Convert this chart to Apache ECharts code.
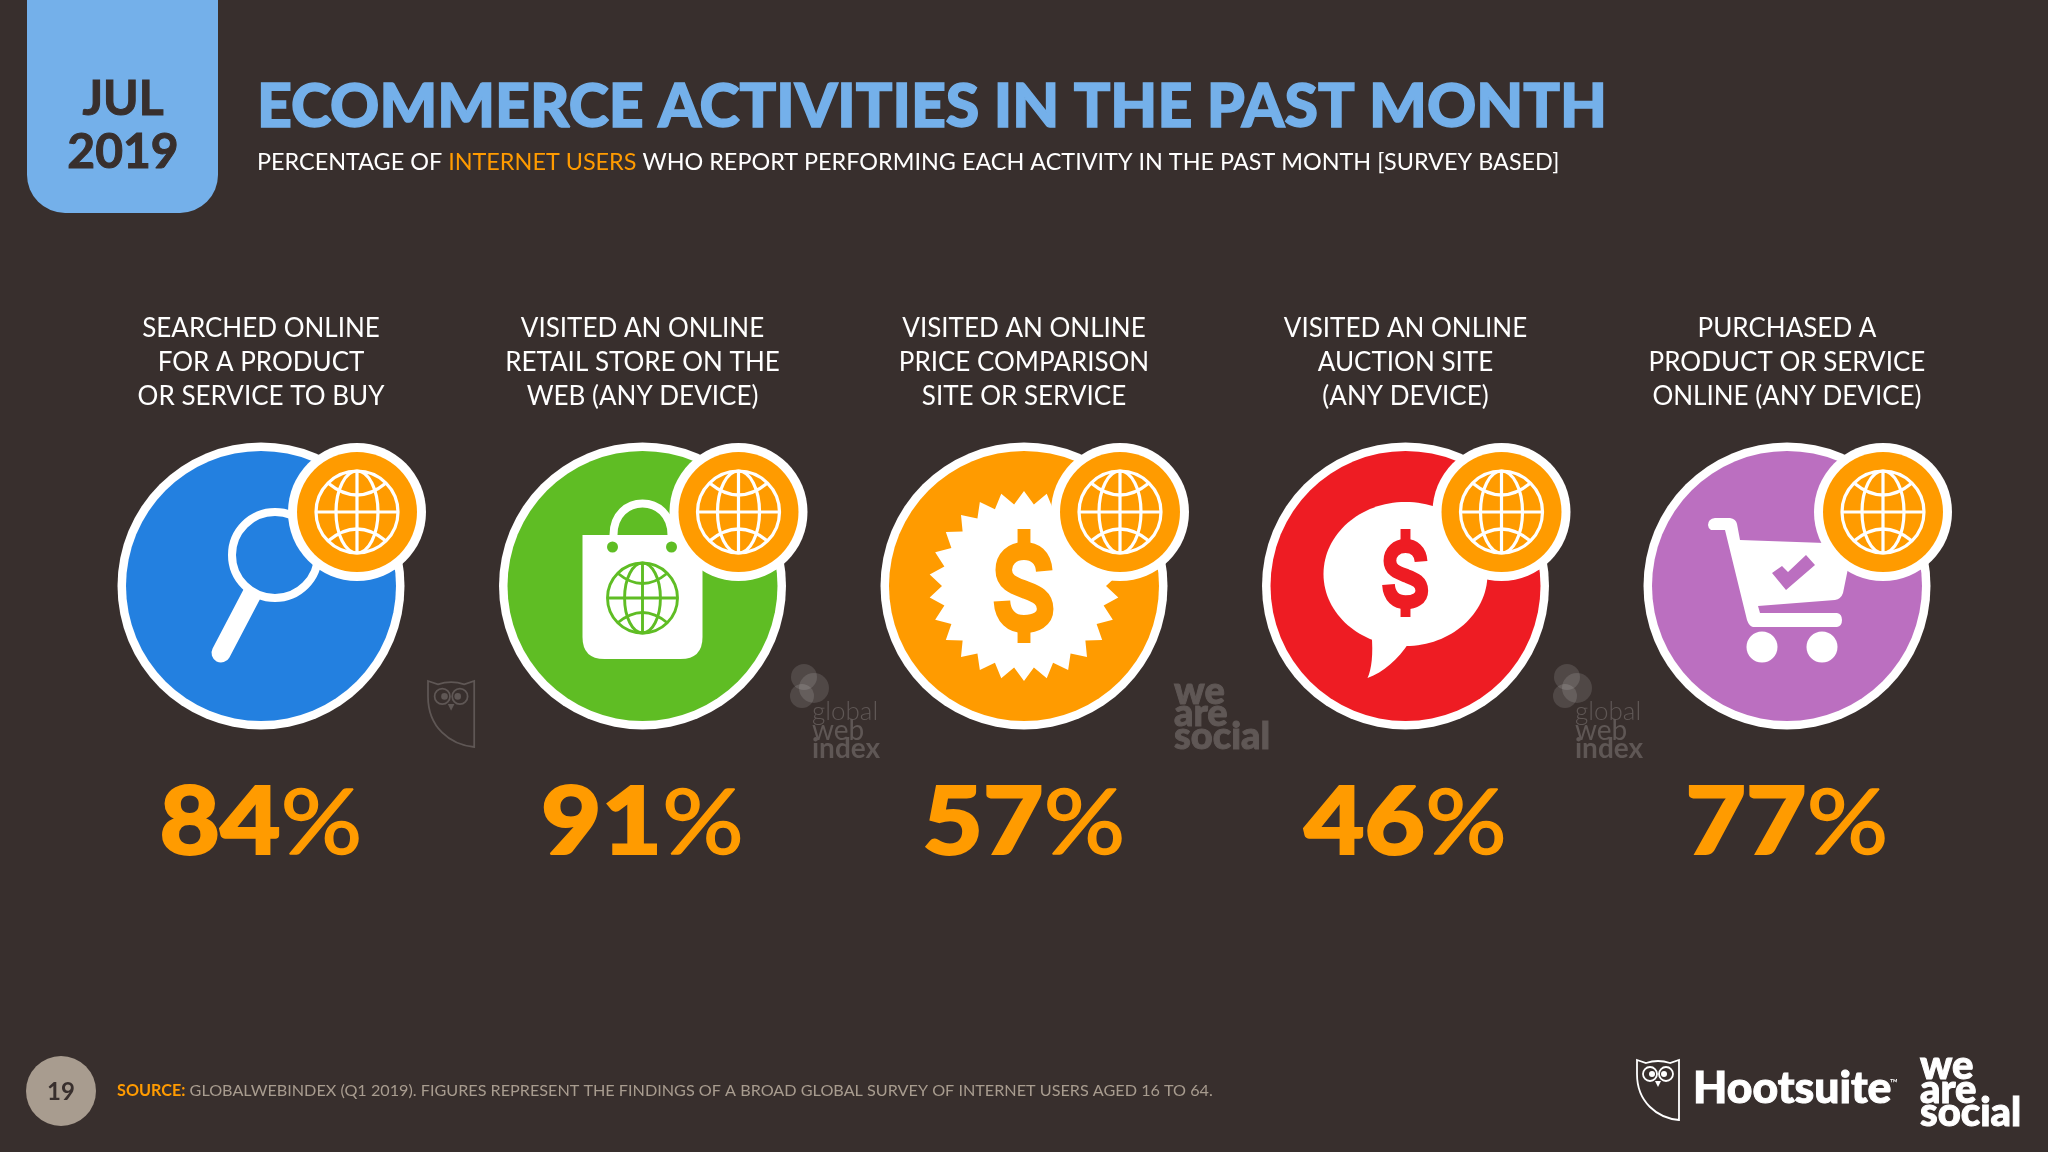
<!DOCTYPE html>
<html lang="en">
<head>
  <meta charset="UTF-8">
  <title>Ecommerce activities in the past month</title>
  <script src="https://cdn.jsdelivr.net/npm/echarts@6/dist/echarts.min.js"></script>
  <style>
    html, body { margin: 0; padding: 0; background: #382f2d; }
    #main { width: 2048px; height: 1152px; }
  </style>
</head>
<body>
  <div id="main"></div>
  <script>
    var categories = [
      'SEARCHED ONLINE\nFOR A PRODUCT\nOR SERVICE TO BUY',
      'VISITED AN ONLINE\nRETAIL STORE ON THE\nWEB (ANY DEVICE)',
      'VISITED AN ONLINE\nPRICE COMPARISON\nSITE OR SERVICE',
      'VISITED AN ONLINE\nAUCTION SITE\n(ANY DEVICE)',
      'PURCHASED A\nPRODUCT OR SERVICE\nONLINE (ANY DEVICE)'
    ];
    var percentValues = [84, 91, 57, 46, 77];
    var iconNames = ['search', 'bag', 'burst', 'speech', 'cart'];
    var circleColors = ['#2380e0', '#5fbd24', '#ff9b00', '#ee1c23', '#bb6fc0'];

    var FONT = 'Lato, "Noto Sans", sans-serif';
    var BG = '#382f2d';
    var WHITE = '#ffffff';
    var ORANGE = '#ff9b00';
    var BLUE = '#74b0ea';
    var FAINT = '#5f5755';

    // ---- icon helpers, all drawn around 0,0 ----
    function circle(cx, cy, r, fill) {
      return { type: 'circle', shape: { cx: cx, cy: cy, r: r }, style: { fill: fill } };
    }
    function path(d, fill, stroke, lw) {
      return {
        type: 'path',
        shape: { pathData: d },
        style: { fill: fill || 'none', stroke: stroke || 'none', lineWidth: lw || 0 }
      };
    }
    // heavy thickens the glyphs a little, the source logos are blacker than Lato
    function label(text, x, y, size, weight, color, align, heavy) {
      return {
        type: 'text',
        x: x,
        y: y,
        style: {
          text: text,
          fill: color,
          stroke: heavy ? color : null,
          lineWidth: heavy || 0,
          fontFamily: FONT,
          fontSize: size,
          fontWeight: weight,
          align: align || 'left',
          verticalAlign: 'middle'
        }
      };
    }

    function globe(cx, cy, r, color, lw) {
      var k = r / 41;
      return {
        type: 'group',
        x: cx,
        y: cy,
        scaleX: k,
        scaleY: k,
        children: [
          { type: 'circle', shape: { cx: 0, cy: 0, r: 41 }, style: { fill: 'none', stroke: color, lineWidth: lw } },
          { type: 'ellipse', shape: { cx: 0, cy: 0, rx: 21, ry: 41 }, style: { fill: 'none', stroke: color, lineWidth: lw } },
          path('M0,-41 L0,41 M-41,0 L41,0', 'none', color, lw),
          path('M-29,-29 Q0,-5 29,-29 M-29,29 Q0,5 29,29', 'none', color, lw)
        ]
      };
    }

    function dollar(cx, cy, k, color) {
      return {
        type: 'group',
        x: cx,
        y: cy,
        scaleX: k * 0.92,
        scaleY: k,
        children: [
          path('M22,-15 C21,-29 12,-35 0,-35 C-13,-35 -22,-27 -22,-16 C-22,-3 -9,0 2,4 C14,8 23,12 23,23 C23,33 13,38 0,38 C-13,38 -23,31 -24,15',
            'none', color, 18),
          path('M-7,-57 L7,-57 L7,-36 L-7,-36 Z M-7,36 L7,36 L7,57 L-7,57 Z', color)
        ]
      };
    }

    function burstPoints() {
      var pts = [];
      var n = 26;
      for (var i = 0; i < n * 2; i++) {
        var r = i % 2 ? 82 : 95;
        var a = -Math.PI / 2 + i * Math.PI / n;
        pts.push([r * Math.cos(a), r * Math.sin(a)]);
      }
      return pts;
    }

    function iconShapes(name, color) {
      if (name === 'search') {
        return [
          { type: 'line', shape: { x1: -7, y1: 4, x2: -40, y2: 67 }, style: { stroke: WHITE, lineWidth: 19, lineCap: 'round' } },
          { type: 'circle', shape: { cx: 14, cy: -31, r: 43 }, style: { fill: color, stroke: WHITE, lineWidth: 8 } }
        ];
      }
      if (name === 'bag') {
        return [
          path('M-29,-51 C-29,-93 29,-93 29,-51', 'none', WHITE, 8),
          path('M-60,-51 L60,-51 L60,51 Q60,73 38,73 L-38,73 Q-60,73 -60,51 Z', WHITE),
          circle(-30, -39, 5.5, color),
          circle(29, -39, 5.5, color),
          globe(0, 12, 35, color, 3.4)
        ];
      }
      if (name === 'burst') {
        return [
          { type: 'polygon', shape: { points: burstPoints() }, style: { fill: WHITE } },
          dollar(0, 0, 1, color)
        ];
      }
      if (name === 'speech') {
        return [
          { type: 'ellipse', shape: { cx: 0, cy: -12, rx: 82, ry: 72 }, style: { fill: WHITE } },
          path('M-34,48 C-32,68 -34,84 -38,92 C-22,86 -8,74 4,56 Z', WHITE),
          dollar(0, -13, 0.77, color)
        ];
      }
      return [
        path('M-47,-46 L66,-42 L56,7 Q54,13 48,14 L-29,20 L-27,27 L50,27 Q55,28 55,34 Q55,40 50,41 L-34,41 Q-38,40 -40,34 L-62,-56 L-76,-56 Q-79,-58 -79,-61 Q-79,-67 -72,-68 L-57,-68 Q-51,-67 -50,-62 Z', WHITE),
        circle(-25, 61, 15.5, WHITE),
        circle(35, 61, 15.5, WHITE),
        { type: 'polygon', shape: { points: [[-15, -13], [-1, 4], [28, -21], [19, -31], [1, -14], [-5, -20]] }, style: { fill: color } }
      ];
    }

    function owl(x, y, k, color, lw) {
      return {
        type: 'group',
        x: x,
        y: y,
        scaleX: k,
        scaleY: k,
        children: [
          path('M0,0 L9,3 Q21,-1 33,3 L42,0 L42,60 C20,58 0,42 0,14 Z', 'none', color, lw),
          { type: 'circle', shape: { cx: 13, cy: 14, r: 7 }, style: { fill: 'none', stroke: color, lineWidth: lw } },
          { type: 'circle', shape: { cx: 29, cy: 14, r: 7 }, style: { fill: 'none', stroke: color, lineWidth: lw } },
          circle(15, 14, 3, color),
          circle(27, 14, 3, color),
          path('M18,21 L24,21 L21,27 Z', color)
        ]
      };
    }

    function gwiMark(x) {
      var tint = 'rgba(255,255,255,0.12)';
      return {
        type: 'group',
        x: x,
        y: 0,
        children: [
          circle(0, 677, 13, tint),
          circle(10, 688, 15, tint),
          circle(-2, 696, 12, tint),
          label('global', 8, 712, 26, 300, FAINT),
          label('web', 8, 731, 28, 'normal', FAINT),
          label('index', 8, 749, 28, 'bold', FAINT)
        ]
      };
    }

    // Futura digits are wider than Lato's, so the label is stretched a bit
    function percentLabel(value) {
      return {
        type: 'text',
        x: 0,
        y: 238,
        scaleX: 1.11,
        style: {
          text: '{d|' + value + '}{p|%}',
          align: 'center',
          verticalAlign: 'middle',
          rich: {
            d: { fill: ORANGE, stroke: ORANGE, lineWidth: 2, fontFamily: FONT, fontSize: 94, fontWeight: 900 },
            p: { fill: ORANGE, stroke: ORANGE, lineWidth: 1.5, fontFamily: FONT, fontSize: 92, fontWeight: 'normal' }
          }
        }
      };
    }

    function renderActivity(params, api) {
      var i = api.value(0);
      var p = api.coord([i, 0]);
      var color = circleColors[i];
      return {
        type: 'group',
        x: p[0],
        y: p[1],
        children: [
          circle(0, 0, 143.5, WHITE),
          circle(0, 0, 135, color)
        ].concat(iconShapes(iconNames[i], color)).concat([
          circle(96, -74, 69, WHITE),
          circle(96, -74, 60, ORANGE),
          globe(96, -74, 41, WHITE, 3.2),
          percentLabel(api.value(2))
        ])
      };
    }

    // tab, page number and logos sit at fixed page positions
    function renderPageFurniture() {
      return {
        type: 'group',
        children: [
          { type: 'rect', shape: { x: 27, y: -40, width: 191, height: 253, r: 38 }, style: { fill: BLUE } },
          label('JUL', 123, 100, 48, 'bold', BG, 'center', 1),
          label('2019', 123, 153, 48, 'bold', BG, 'center', 1),
          circle(61, 1091, 35, '#a89c8f'),
          label('19', 61, 1092, 24, 'bold', BG, 'center'),
          owl(428, 681, 1.1, FAINT, 1.6),
          gwiMark(804),
          gwiMark(1567),
          label('we', 1174, 692, 38, 900, FAINT, 'left', 1),
          label('are', 1174, 714, 38, 900, FAINT, 'left', 1),
          label('social', 1174, 737, 38, 900, FAINT, 'left', 1),
          owl(1637, 1060, 1, WHITE, 1.8),
          label('Hootsuite', 1693, 1089, 44.5, 900, WHITE, 'left', 1),
          label('™', 1890, 1083, 11, 'normal', WHITE),
          label('we', 1920, 1066, 40, 900, WHITE, 'left', 1),
          label('are', 1920, 1090, 40, 900, WHITE, 'left', 1),
          label('social', 1920, 1113, 40, 900, WHITE, 'left', 1)
        ]
      };
    }

    var myChart = echarts.init(document.getElementById('main'));

    var option = {
      backgroundColor: BG,
      animation: false,
      title: [
        {
          text: 'ECOMMERCE ACTIVITIES IN THE PAST MONTH',
          left: 257,
          top: 77,
          padding: 0,
          textStyle: {
            color: BLUE,
            fontFamily: FONT,
            fontSize: 60.8,
            fontWeight: 900,
            textBorderColor: BLUE,
            textBorderWidth: 1.5
          }
        },
        {
          text: '{w|PERCENTAGE OF }{o|INTERNET USERS}{w| WHO REPORT PERFORMING EACH ACTIVITY IN THE PAST MONTH [SURVEY BASED]}',
          left: 257,
          top: 151,
          padding: 0,
          textStyle: {
            rich: {
              w: { color: WHITE, fontFamily: FONT, fontSize: 23.4, fontWeight: 'normal' },
              o: { color: ORANGE, fontFamily: FONT, fontSize: 23.4, fontWeight: 'normal' }
            }
          }
        },
        {
          text: '{s|SOURCE:}{g| GLOBALWEBINDEX (Q1 2019). FIGURES REPRESENT THE FINDINGS OF A BROAD GLOBAL SURVEY OF INTERNET USERS AGED 16 TO 64.}',
          left: 117,
          top: 1083,
          padding: 0,
          textStyle: {
            rich: {
              s: { color: ORANGE, fontFamily: FONT, fontSize: 16.2, fontWeight: 'bold' },
              g: { color: '#a89c8f', fontFamily: FONT, fontSize: 16.2, fontWeight: 'normal' }
            }
          }
        }
      ],
      grid: { left: 70.25, top: 430, width: 1907.5, height: 312 },
      xAxis: {
        type: 'category',
        position: 'top',
        data: categories,
        axisLine: { show: false },
        axisTick: { show: false },
        axisLabel: {
          interval: 0,
          margin: 16,
          color: WHITE,
          fontFamily: FONT,
          fontSize: 26,
          lineHeight: 34,
          align: 'center'
        }
      },
      yAxis: { type: 'category', data: ['share'], show: false },
      series: [
        {
          type: 'custom',
          coordinateSystem: 'none',
          silent: true,
          renderItem: renderPageFurniture,
          data: [[0]]
        },
        {
          type: 'custom',
          clip: false,
          renderItem: renderActivity,
          encode: { x: 0, y: 1 },
          data: percentValues.map(function (v, i) { return [i, 0, v]; })
        }
      ]
    };

    myChart.setOption(option);
  </script>
</body>
</html>
